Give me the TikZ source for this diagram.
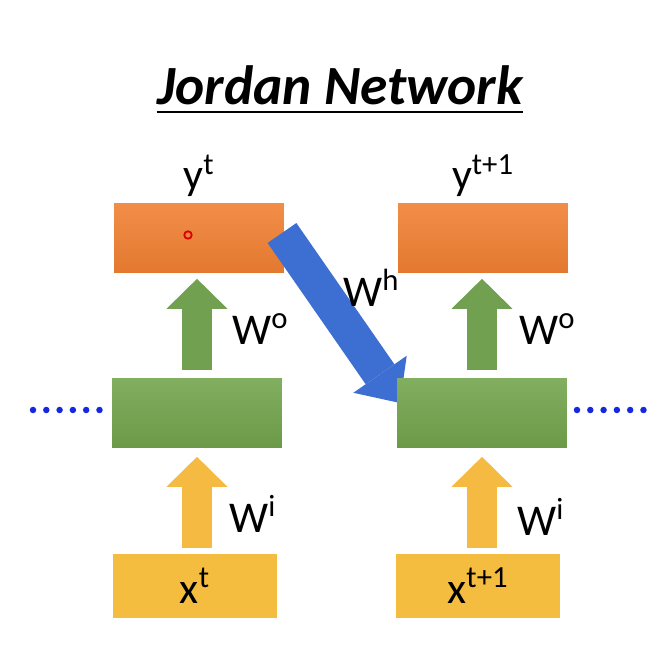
\documentclass[tikz,border=0pt]{standalone}
\usepackage{fontspec}
\setmainfont{Carlito}
\usetikzlibrary{arrows.meta,positioning,calc}
\definecolor{outT}{HTML}{F28D48}
\definecolor{outB}{HTML}{E3792F}
\definecolor{hidT}{HTML}{82AE60}
\definecolor{hidB}{HTML}{6B9A47}
\definecolor{inpC}{HTML}{F5BD40}
\definecolor{garr}{HTML}{70A050}
\definecolor{yarr}{HTML}{F4BA42}
\definecolor{barr}{HTML}{3D6FD2}
\definecolor{dotC}{HTML}{1428E0}

\begin{document}
\begin{tikzpicture}[x=0.02cm,y=0.02cm,>=Stealth,font=\fontsize{25}{30}\selectfont]
\useasboundingbox (0,0) rectangle (654,660);
\tikzstyle{blk}=[minimum width=3.4cm,minimum height=1.38cm,inner sep=0pt]
\tikzstyle{outb}=[blk,top color=outT,bottom color=outB]
\tikzstyle{hidb}=[blk,top color=hidT,bottom color=hidB]
\tikzstyle{inpb}=[blk,minimum width=3.3cm,minimum height=1.28cm,fill=inpC]
\tikzstyle{fat}=[line width=0.62cm,-{Triangle[length=0.6cm,width=1.22cm,line width=0pt]}]
\tikzstyle{dots}=[dotC,line width=0.13cm,line cap=round,dash pattern=on 0pt off 0.266cm]
% title
\node[font=\fontsize{31.5}{36}\selectfont\bfseries\itshape,inner sep=0pt,anchor=base] (title) at (340,555) {Jordan Network};
\draw[line width=0.055cm] ([yshift=-0.14cm]title.base west) -- ([yshift=-0.14cm]title.base east);
% boxes
\node[outb] (y1) at (199,422) {};
\node[outb] (y2) at (483,422) {};
\node[circle,draw=red!85!black,line width=0.035cm,minimum size=0.15cm,inner sep=0pt] (cur) at (188,425) {};
\coordinate (hs) at (282,427);
\coordinate (ht) at (400,257);
\draw[fat,barr,line width=0.7cm,-{Triangle[length=0.7cm,width=1.3cm,line width=0pt]}] (hs) -- (ht);
\node[hidb] (h1) at (197,247) {};
\node[hidb] (h2) at (482,247) {};
\node[inpb] (x1) at (195,74) {x\textsuperscript{t}};
\node[inpb] (x2) at (478,74) {x\textsuperscript{t+1}};
% arrows
\draw[fat,garr] ($(h1.north)+(0,8)$) -- ($(y1.south -| h1.north)+(0,-6)$);
\draw[fat,garr] ($(h2.north)+(0,8)$) -- ($(y2.south -| h2.north)+(0,-6)$);
\draw[fat,yarr] ($(x1.north -| h1.south)+(0,6)$) -- ($(h1.south)+(0,-9)$);
\draw[fat,yarr] ($(x2.north -| h2.south)+(0,6)$) -- ($(h2.south)+(0,-9)$);
% dotted continuation
\coordinate (dl) at (33,250);
\coordinate (dr) at (577,250);
\draw[dots] (dl) -- ($(h1.west)+(-12,3)$);
\draw[dots] (dr) -- ($(dr)+(67,0)$);
% labels
\node[above=0pt of y1] (ly1) {y\textsuperscript{t}};
\node[above=0pt of y2] (ly2) {y\textsuperscript{t+1}};
\node[anchor=west] (lo1) at (226,331) {W\textsuperscript{o}};
\node[anchor=west] (lo2) at (513,331) {W\textsuperscript{o}};
\node[anchor=west] (li1) at (223,146) {W\textsuperscript{i}};
\node[anchor=west] (li2) at (511,143) {W\textsuperscript{i}};
\node[anchor=west] (lh) at (337,372) {W\textsuperscript{h}};
\end{tikzpicture}
\end{document}
